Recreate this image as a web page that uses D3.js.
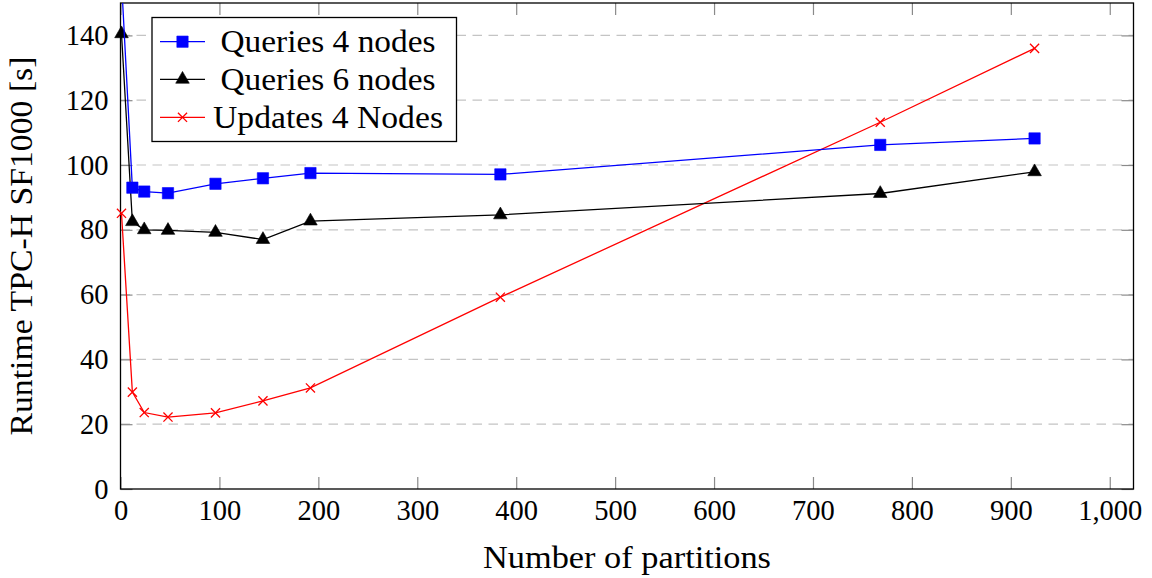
<!DOCTYPE html>
<html>
<head>
<meta charset="utf-8">
<script src="https://cdn.jsdelivr.net/npm/d3@7"></script>
<style>
  body { margin: 0; background: #fff; }
  svg { display: block; font-family: "Liberation Serif", "DejaVu Serif", serif; }
</style>
</head>
<body>
<svg id="chart"></svg>
<script>
// Data
const partitions = [1, 12, 24, 48, 96, 144, 192, 384, 768, 924];
const queries4 = [157, 93.0, 91.8, 91.3, 94.2, 95.9, 97.5, 97.1, 106.2, 108.2];
const queries6 = [140.5, 82.5, 80.0, 79.8, 79.2, 77.0, 82.7, 84.6, 91.2, 97.9];
const updates4 = [85.1, 29.9, 23.6, 22.2, 23.5, 27.2, 31.2, 59.2, 113.2, 136.0];
const seriesNames = ["Queries 4 nodes", "Queries 6 nodes", "Updates 4 Nodes"];
const xTicks = [0, 100, 200, 300, 400, 500, 600, 700, 800, 900, 1000];
const yTicks = [0, 20, 40, 60, 80, 100, 120, 140];

const width = 1152, height = 578;
const plot = { left: 120.5, right: 1133.5, top: 3, bottom: 489 };
const labelSize = 31;   // titles and legend text
const tickSize = 28.5;  // tick labels

const svg = d3.select("#chart")
    .attr("width", width)
    .attr("height", height);

svg.append("rect").attr("width", width).attr("height", height).attr("fill", "#fff");

const x = d3.scaleLinear().domain([0, 1024]).range([plot.left, plot.right]);
const y = d3.scaleLinear().domain([0, 150]).range([plot.bottom, plot.top]);

svg.append("defs").append("clipPath")
    .attr("id", "plot-clip")
    .append("rect")
    .attr("x", plot.left).attr("y", plot.top)
    .attr("width", plot.right - plot.left)
    .attr("height", plot.bottom - plot.top);

// Dashed horizontal grid
svg.append("g")
    .selectAll("line")
    .data(yTicks.filter(d => d > 0))
    .enter()
    .append("line")
    .attr("x1", plot.left).attr("x2", plot.right)
    .attr("y1", d => y(d)).attr("y2", d => y(d))
    .attr("stroke", "#c4c4c4")
    .attr("stroke-width", 1.2)
    .attr("stroke-dasharray", "9.5,6.5");

// Axes (ticks point inward on all four sides)
const tickLen = 12;
function styleAxis(g) {
    g.select(".domain").remove();
    g.selectAll(".tick line").attr("stroke", "#8a8a8a").attr("stroke-width", 1.2);
    g.selectAll(".tick text")
        .attr("fill", "#000")
        .style("font-family", "'Liberation Serif', serif")
        .style("font-size", tickSize + "px");
}

svg.append("g")
    .attr("transform", `translate(0,${plot.bottom})`)
    .call(d3.axisBottom(x).tickValues(xTicks).tickFormat(d3.format(",")).tickSizeInner(-tickLen).tickSizeOuter(0).tickPadding(11))
    .call(styleAxis);

svg.append("g")
    .attr("transform", `translate(0,${plot.top})`)
    .call(d3.axisTop(x).tickValues(xTicks).tickFormat("").tickSizeInner(-tickLen).tickSizeOuter(0))
    .call(styleAxis);

svg.append("g")
    .attr("transform", `translate(${plot.left},0)`)
    .call(d3.axisLeft(y).tickValues(yTicks).tickSizeInner(-tickLen).tickSizeOuter(0).tickPadding(12))
    .call(styleAxis);

svg.append("g")
    .attr("transform", `translate(${plot.right},0)`)
    .call(d3.axisRight(y).tickValues(yTicks).tickFormat("").tickSizeInner(-tickLen).tickSizeOuter(0))
    .call(styleAxis);

// Axis frame
svg.append("rect")
    .attr("x", plot.left).attr("y", plot.top)
    .attr("width", plot.right - plot.left)
    .attr("height", plot.bottom - plot.top)
    .attr("fill", "none")
    .attr("stroke", "#000")
    .attr("stroke-width", 1.3);

// Marker drawing helpers
const markerSymbols = {
    square: d3.symbol().type(d3.symbolSquare).size(128),
    triangle: d3.symbol().type(d3.symbolTriangle).size(80),
    cross: d3.symbol().type(d3.symbolX).size(56)
};

const series = [
    { name: seriesNames[0], values: queries4, color: "#0000ff", marker: "square", textWidth: 215 },
    { name: seriesNames[1], values: queries6, color: "#000000", marker: "triangle", textWidth: 215 },
    { name: seriesNames[2], values: updates4, color: "#ff0000", marker: "cross", textWidth: 230 }
];

const line = d3.line()
    .x(d => x(d[0]))
    .y(d => y(d[1]));

function drawMarker(sel, s) {
    sel.attr("d", markerSymbols[s.marker]);
    if (s.marker === "cross") {
        sel.attr("fill", "none").attr("stroke", s.color).attr("stroke-width", 1.3);
    } else {
        sel.attr("fill", s.color).attr("stroke", s.color).attr("stroke-width", 0.6);
    }
}

// Draw in reverse so the blue series sits on top
series.slice().reverse().forEach(s => {
    const pts = partitions.map((p, i) => [p, s.values[i]]);
    svg.append("path")
        .datum(pts)
        .attr("clip-path", "url(#plot-clip)")
        .attr("d", line)
        .attr("fill", "none")
        .attr("stroke", s.color)
        .attr("stroke-width", 1.3);

    svg.append("g")
        .selectAll("path")
        .data(pts)
        .enter()
        .append("path")
        .attr("transform", d => `translate(${x(d[0])},${y(d[1])})`)
        .call(drawMarker, s);
});

// Legend
const legend = svg.append("g");
legend.append("rect")
    .attr("x", 152).attr("y", 17.5)
    .attr("width", 304.5).attr("height", 124)
    .attr("fill", "#fff")
    .attr("stroke", "#000")
    .attr("stroke-width", 1.3);

const rowY = [41.7, 79.3, 117.3];
series.forEach((s, i) => {
    const row = legend.append("g").attr("transform", `translate(0,${rowY[i]})`);
    row.append("line")
        .attr("x1", 160).attr("x2", 205)
        .attr("stroke", s.color).attr("stroke-width", 1.3);
    row.append("path")
        .attr("transform", "translate(182.5,0)")
        .call(drawMarker, s);
    row.append("text")
        .attr("x", 328)
        .attr("y", 0)
        .attr("dy", "0.33em")
        .attr("text-anchor", "middle")
        .attr("textLength", s.textWidth)
        .attr("lengthAdjust", "spacingAndGlyphs")
        .style("font-size", labelSize + "px")
        .text(s.name);
});

// Axis titles
svg.append("text")
    .attr("x", (plot.left + plot.right) / 2)
    .attr("y", 568)
    .attr("text-anchor", "middle")
    .attr("textLength", 288)
    .attr("lengthAdjust", "spacingAndGlyphs")
    .style("font-size", labelSize + "px")
    .text("Number of partitions");

svg.append("text")
    .attr("transform", `translate(32,${(plot.top + plot.bottom) / 2}) rotate(-90)`)
    .attr("text-anchor", "middle")
    .attr("textLength", 379)
    .attr("lengthAdjust", "spacingAndGlyphs")
    .style("font-size", labelSize + "px")
    .text("Runtime TPC-H SF1000 [s]");
</script>
</body>
</html>
